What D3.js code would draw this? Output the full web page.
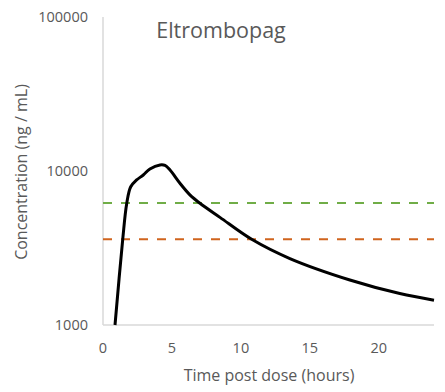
<!DOCTYPE html>
<html><head><meta charset="utf-8">
<script src="https://cdn.jsdelivr.net/npm/d3@7"></script>
<style>body{margin:0;background:#fff;} text{font-family:"Open Sans","Liberation Sans",sans-serif;fill:#595959;}</style>
</head><body>
<svg id="c" width="445" height="392"></svg>
<script>
const times = [0.87, 1.43, 1.72, 2.01, 2.44, 2.92, 3.4, 4.13, 4.5, 4.86, 5.58, 6.3, 7.03, 8.48, 10.78, 13.55, 17.9, 21.52, 24];
const conc = [1000, 3600, 6160, 7900, 8750, 9420, 10300, 10940, 10860, 10140, 8320, 7000, 6170, 5000, 3600, 2700, 1960, 1600, 1450];
const thresholdGreen = 6200;
const thresholdOrange = 3600;
const xTicks = [0, 5, 10, 15, 20];
const yTicks = [1000, 10000, 100000];
const title = "Eltrombopag";

const svg = d3.select("#c");
const x = d3.scaleLinear().domain([0, 24]).range([103, 434]);
const y = d3.scaleLog().domain([1000, 100000]).range([325, 17]);

svg.append("line").attr("x1", x(0)).attr("x2", x(0)).attr("y1", y(100000)).attr("y2", y(1000)).attr("stroke", "#d9d9d9").attr("stroke-width", 1.5);
svg.append("line").attr("x1", x(0)).attr("x2", x(24)).attr("y1", y(1000)).attr("y2", y(1000)).attr("stroke", "#d9d9d9").attr("stroke-width", 1.5);

svg.selectAll(".yt").data(yTicks).enter().append("text")
  .attr("x", 88).attr("y", d => y(d)).attr("dy", "0.35em").attr("text-anchor", "end")
  .attr("font-size", 14.5).text(d => d);
svg.selectAll(".xt").data(xTicks).enter().append("text")
  .attr("x", d => x(d)).attr("y", 348).attr("dy", "0.35em").attr("text-anchor", "middle")
  .attr("font-size", 14.5).text(d => d);

svg.append("text").attr("x", 269).attr("y", 375).attr("dy", "0.35em").attr("text-anchor", "middle")
  .attr("font-size", 16).text("Time post dose (hours)");
svg.append("text").attr("transform", "translate(21,172) rotate(-90)").attr("dy", "0.35em").attr("text-anchor", "middle")
  .attr("font-size", 16).text("Concentration (ng / mL)");
svg.append("text").attr("x", 221).attr("y", 30).attr("dy", "0.35em").attr("text-anchor", "middle")
  .attr("font-size", 21.5).text(title);

svg.append("line").attr("x1", x(0)).attr("x2", x(24)).attr("y1", y(thresholdGreen)).attr("y2", y(thresholdGreen))
  .attr("stroke", "#70ad47").attr("stroke-width", 2).attr("stroke-dasharray", "9,9");
svg.append("line").attr("x1", x(0)).attr("x2", x(24)).attr("y1", y(thresholdOrange)).attr("y2", y(thresholdOrange))
  .attr("stroke", "#d0641e").attr("stroke-width", 2).attr("stroke-dasharray", "9,9");

const data = times.map((t, i) => [t, conc[i]]);
svg.append("path").datum(data)
  .attr("d", d3.line().x(d => x(d[0])).y(d => y(d[1])).curve(d3.curveCatmullRom.alpha(0.5)))
  .attr("fill", "none").attr("stroke", "#000").attr("stroke-width", 3);
</script>
</body></html>
